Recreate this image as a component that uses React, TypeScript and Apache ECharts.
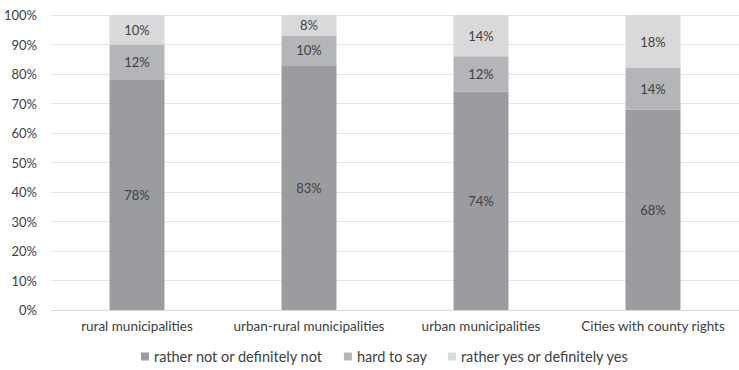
import React, { useEffect, useRef } from "react";
import * as echarts from "echarts";

const categories = [
  "rural municipalities",
  "urban-rural municipalities",
  "urban municipalities",
  "Cities with county rights",
];
const seriesNames = [
  "rather not or definitely not",
  "hard to say",
  "rather yes or definitely yes",
];
const ratherNot = [78, 83, 74, 68];
const hardToSay = [12, 10, 12, 14];
const ratherYes = [10, 8, 14, 18];
const colors = ["#9b9c9f", "#b4b5b8", "#d9d9db"];

const FONT = "Lato, 'Open Sans', sans-serif";

export default function App() {
  const ref = useRef<HTMLDivElement>(null);
  useEffect(() => {
    document.body.style.margin = "0";
    if (!ref.current) return;
    const chart = echarts.init(ref.current, undefined, { renderer: "svg" });
    const dataSets = [ratherNot, hardToSay, ratherYes];
    chart.setOption({
      animation: false,
      textStyle: { fontFamily: FONT },
      grid: { left: 51, right: -5, top: 15, bottom: 60 },
      legend: {
        top: 349,
        left: 141,
        padding: [0, 0, 0, 0],
        itemWidth: 8,
        itemHeight: 8,
        itemGap: 21,
        icon: "rect",
        textStyle: { color: "#404040", fontSize: 14.5, fontFamily: FONT },
        data: seriesNames,
      },
      xAxis: {
        type: "category",
        data: categories,
        axisLine: { lineStyle: { color: "#d9d9d9" } },
        axisTick: { show: false },
        axisLabel: {
          color: "#404040",
          fontSize: 13.5,
          margin: 9,
          interval: 0,
          fontFamily: FONT,
        },
      },
      yAxis: {
        type: "value",
        min: 0,
        max: 100,
        interval: 10,
        axisLabel: {
          formatter: "{value}%",
          color: "#404040",
          fontSize: 13,
          margin: 14,
          fontFamily: FONT,
        },
        splitLine: { lineStyle: { color: "#e3e3e3" } },
        axisLine: { show: false },
        axisTick: { show: false },
      },
      series: dataSets.map((d, i) => ({
        name: seriesNames[i],
        type: "bar",
        stack: "total",
        barWidth: 55,
        data: d,
        itemStyle: { color: colors[i] },
        label: {
          show: true,
          position: "inside",
          formatter: "{c}%",
          color: "#404040",
          fontSize: 13,
          fontFamily: FONT,
        },
      })),
    });
    return () => chart.dispose();
  }, []);
  return <div ref={ref} style={{ width: 739, height: 370 }} />;
}
